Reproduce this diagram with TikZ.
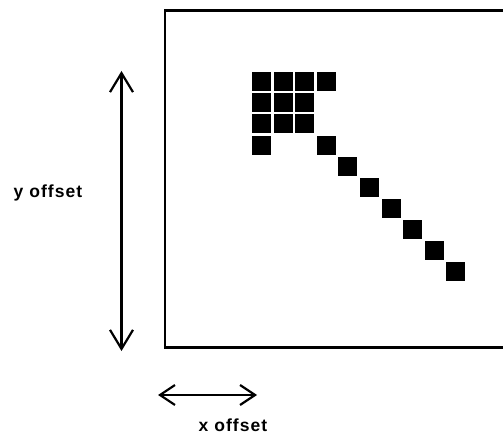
\documentclass[tikz,border=0pt]{standalone}
\usepackage{fontspec}
\setmainfont{Liberation Sans}
\usetikzlibrary{arrows.meta}
\tikzset{
  cell/.style={fill=black, draw=none, minimum size=19pt, inner sep=0pt, outer sep=0pt},
  frame/.style={line width=2.2pt},
  dimarrow/.style={line width=2.6pt},
  dimlabel/.style={font=\fontsize{17.5}{20}\selectfont\bfseries\addfontfeatures{LetterSpace=6}, inner sep=0pt, anchor=base},
  bigbarb/.tip={Straight Barb[length=19pt,width=23pt,line width=2.2pt]},
  smallbarb/.tip={Straight Barb[length=15pt,width=20pt,line width=2.2pt]},
}
\begin{document}
\begin{tikzpicture}[x=1pt,y=-1pt]
  \useasboundingbox (0,0) rectangle (503,435);
  % display frame, open past the right edge
  \draw[frame] (503,10.5) -- (165,10.5) -- (165,347.5) -- (503,347.5);
  % character cells: filled block in the upper left
  \foreach \r/\c in {0/0,0/1,0/2,0/3, 1/0,1/1,1/2, 2/0,2/1,2/2, 3/0}
    \node[cell] (sq-\r-\c) at ({261.5+21.6*\c},{81.8+21.1*\r}) {};
  % diagonal stroke of cells
  \foreach \k in {3,...,9}
    \node[cell] (sq-\k-\k) at ({261.5+21.6*\k},{81.8+21.1*\k}) {};
  % vertical offset
  \coordinate (ytop) at (121.5,71);
  \coordinate (ybot) at (121.5,351);
  \draw[dimarrow, bigbarb-bigbarb] (ytop) -- (ybot);
  \node[dimlabel] (ylab) at (48,197.5) {y offset};
  % horizontal offset
  \coordinate (xl) at (158,395);
  \coordinate (xr) at (257,395);
  \draw[dimarrow, smallbarb-smallbarb] (xl) -- (xr);
  \node[dimlabel] (xlab) at (233,431.5) {x offset};
\end{tikzpicture}
\end{document}
